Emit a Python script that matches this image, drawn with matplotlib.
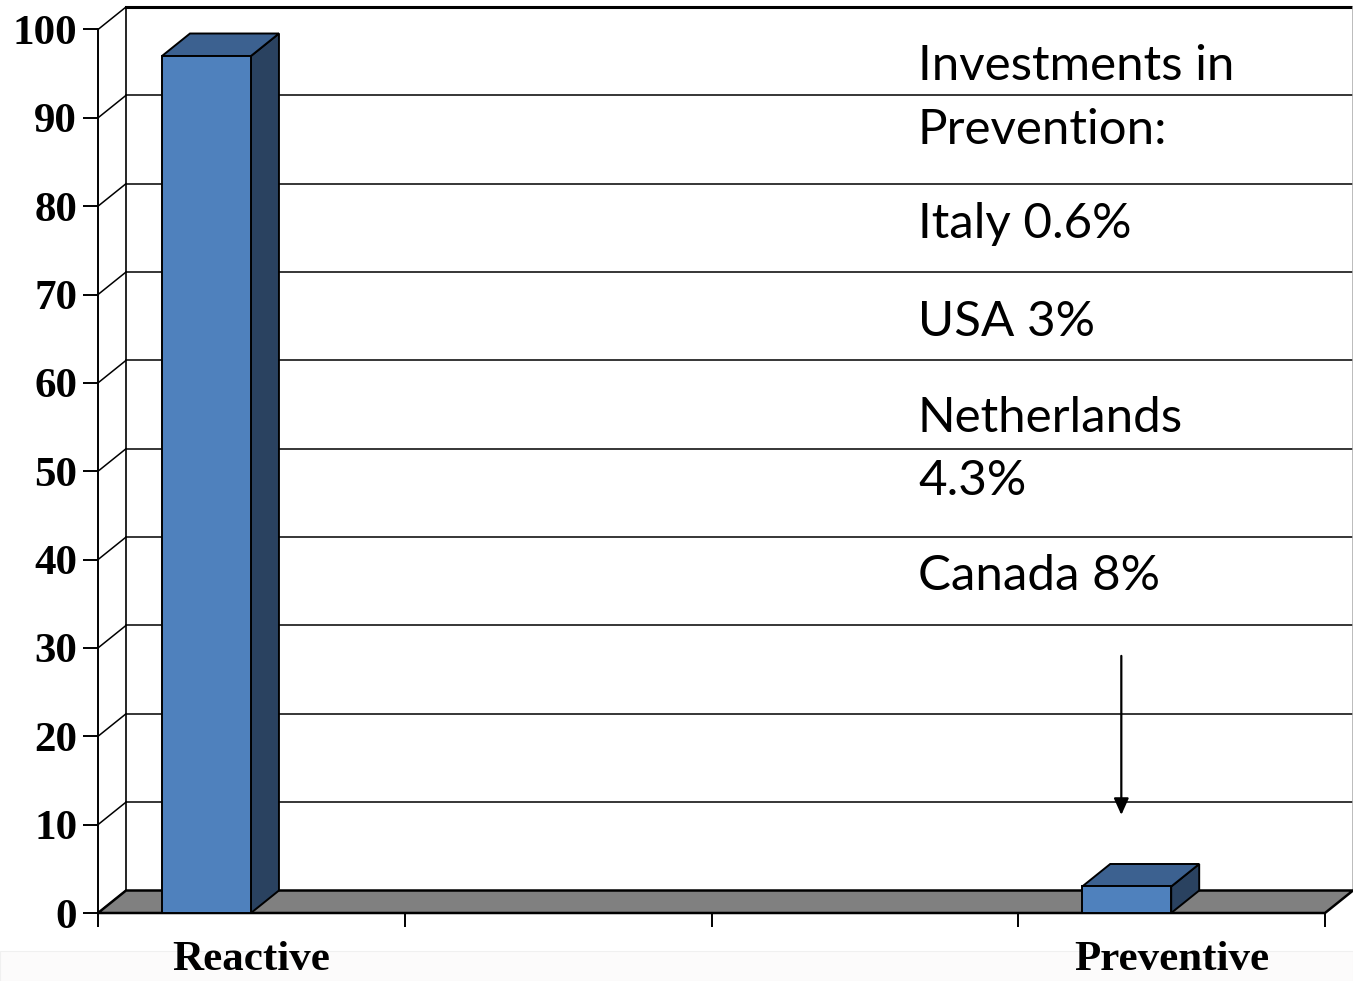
import matplotlib
matplotlib.use('Agg')
import matplotlib.pyplot as plt
from matplotlib.patches import Polygon, Rectangle

# chart data
categories = ['Reactive', '', '', 'Preventive']
values = [97, 0, 0, 3]
y_ticks = list(range(0, 101, 10))
note_lines = ['Investments in', 'Prevention:', 'Italy 0.6%', 'USA 3%',
              'Netherlands', '4.3%', 'Canada 8%']
note_baselines = [80, 144, 238, 336, 432, 495, 590]   # pixels from top

W, H = 1353, 981
fig = plt.figure(figsize=(W / 100, H / 100), dpi=100)
fig.patch.set_facecolor('white')

# front plane of the 3d box
left, right, top, bottom = 98, 1325, 29.5, 913
ax = fig.add_axes([left / W, 1 - bottom / H, (right - left) / W, (bottom - top) / H])
ax.set_xlim(0, len(categories))
ax.set_ylim(0, 100)
ax.patch.set_alpha(0)

# depth offset of the 3d effect, in data units
px_x = (right - left) / len(categories)
px_y = (bottom - top) / 100
ddx = 28 / px_x
ddy = 22.5 / px_y

n = len(categories)
# back wall
ax.add_patch(Polygon([(ddx, ddy), (n + ddx, ddy), (n + ddx, 100 + ddy), (ddx, 100 + ddy)],
                     closed=True, facecolor='white', edgecolor='none', zorder=0, clip_on=False))
for v in y_ticks:
    lw = 2.2 if v == 100 else 1.1
    ax.plot([ddx, n + ddx], [v + ddy, v + ddy], color='black', lw=lw, zorder=1, clip_on=False)
    ax.plot([0, ddx], [v, v + ddy], color='black', lw=1.1, zorder=1, clip_on=False)
ax.plot([ddx, ddx], [ddy, 100 + ddy], color='black', lw=1.2, zorder=1, clip_on=False)
ax.plot([n + ddx, n + ddx], [ddy, 100 + ddy], color='#b0b0b0', lw=1.2, zorder=1, clip_on=False)

# floor
ax.add_patch(Polygon([(0, 0), (n, 0), (n + ddx, ddy), (ddx, ddy)], closed=True,
                     facecolor='#808080', edgecolor='black', lw=1.8, zorder=2, clip_on=False))

# bars
bar_off = 0.2086
bar_w = 0.29
front_c, top_c, side_c = '#4f81bd', '#3c6190', '#2a4260'
for i, v in enumerate(values):
    if v <= 0:
        continue
    x0 = i + bar_off
    x1 = x0 + bar_w
    ax.add_patch(Polygon([(x1, 0), (x1 + ddx, ddy), (x1 + ddx, v + ddy), (x1, v)], closed=True,
                         facecolor=side_c, edgecolor='black', lw=1.4, zorder=3, clip_on=False))
    ax.add_patch(Polygon([(x0, v), (x1, v), (x1 + ddx, v + ddy), (x0 + ddx, v + ddy)], closed=True,
                         facecolor=top_c, edgecolor='black', lw=1.4, zorder=3, clip_on=False))
    ax.add_patch(Rectangle((x0, 0), bar_w, v, facecolor=front_c, edgecolor='black',
                           lw=1.4, zorder=4, clip_on=False))

# axes and ticks
for s in ['top', 'right', 'bottom']:
    ax.spines[s].set_visible(False)
ax.spines['left'].set_linewidth(1.4)
ax.spines['left'].set_zorder(5)
serif = {'family': 'Liberation Serif', 'weight': 'bold', 'size': 31}
ax.set_yticks(y_ticks)
ax.set_yticklabels([str(t) for t in y_ticks], fontdict=serif)
ax.tick_params(axis='y', direction='out', length=11, width=1.4, pad=4)
ax.set_xticks(range(n + 1))
ax.set_xticklabels([])
ax.tick_params(axis='x', which='major', direction='out', length=10, width=1.4)
ax.set_xticks([i + 0.5 for i in range(n)], minor=True)
ax.set_xticklabels(categories, minor=True, fontdict=serif)
ax.tick_params(axis='x', which='minor', length=0, pad=20)

# notes on the right
for line, yb in zip(note_lines, note_baselines):
    fig.text(918 / W, 1 - yb / H, line, family='Lato', fontsize=35.5,
             ha='left', va='baseline', color='black')

# arrow pointing down to the preventive bar
ax.annotate('', xy=(3.336, 11.1), xytext=(3.336, 29.1),
            arrowprops=dict(arrowstyle='-|>,head_length=1.0,head_width=0.45',
                            color='black', lw=1.6, shrinkA=0, shrinkB=0),
            annotation_clip=False)

# faint band at the bottom edge
fig.patches.append(Rectangle((0, 0), 1, 30 / H, transform=fig.transFigure,
                             facecolor='#fcfbfb', edgecolor='#f0f0f0', lw=0.8, zorder=-1))

fig.savefig('out.png', dpi=100)
